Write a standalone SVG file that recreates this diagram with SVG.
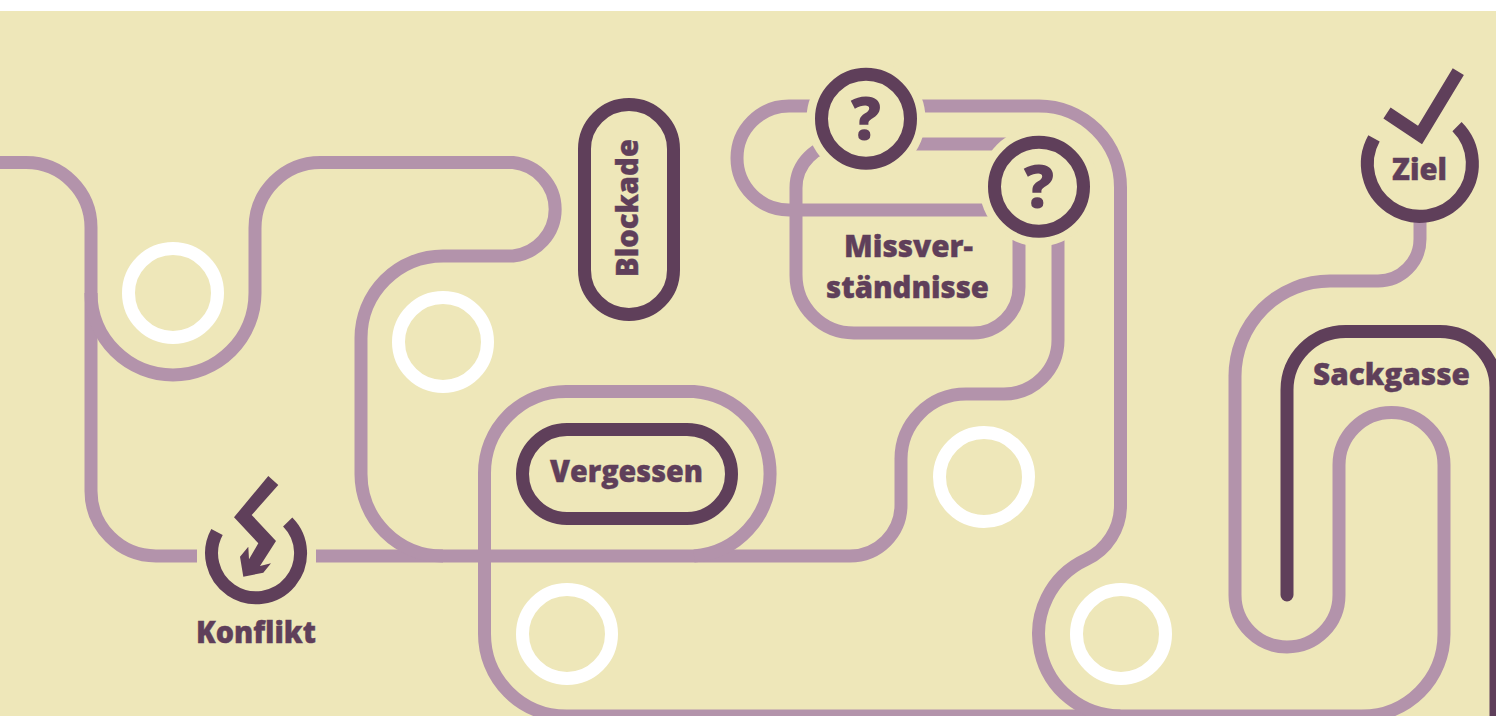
<svg xmlns="http://www.w3.org/2000/svg" width="1496" height="716" viewBox="0 0 1496 716">
<style>
.l{fill:none;stroke:#B393AB;stroke-width:13}
.d{fill:none;stroke:#5F3F5A;stroke-width:13}
.w{fill:none;stroke:#FFFFFF;stroke-width:13}
.h{fill:#EEE7B9}
.t{font-family:"Open Sans","Liberation Sans",sans-serif;font-weight:800;fill:#5F3F5A;stroke:#5F3F5A;stroke-width:0.4;font-size:30px}
.q{font-family:"Open Sans","Liberation Sans",sans-serif;font-weight:800;fill:#5F3F5A;font-size:60px;text-anchor:middle}
</style>
<rect width="1496" height="716" fill="#FFFFFF"/>
<rect y="11" width="1496" height="705" fill="#EEE7B9"/>
<g id="connectors">
<path class="l" d="M0 162.500H26A65 65 0 0 1 91 227.500V491A65 65 0 0 0 156 556H197"/>
<path class="l" d="M316 556H850A51 51 0 0 0 901 505V459A65 65 0 0 1 966 394H1004A54 54 0 0 0 1058 340V240"/>
<path class="l" d="M91 293A82 82 0 0 0 255 293V228A65.500 65.500 0 0 1 320.500 162.500H513A47 47 0 0 1 513 256H443A82 82 0 0 0 361 338V474A82 82 0 0 0 443 556"/>
<path class="l" d="M694 556A82.500 82.500 0 0 0 694 391.500H566A81.500 81.500 0 0 0 484.500 473V634A82 82 0 0 0 566.500 716H1362A82 82 0 0 0 1444 634V465A52.500 52.500 0 0 0 1339 465V595A52 52 0 0 1 1235 595V376A95 95 0 0 1 1330 281H1378A42 42 0 0 0 1420 239V215"/>
<path class="l" d="M860 106H1039A81.500 81.500 0 0 1 1120.500 187.500V505.300A60 60 0 0 1 1085.900 559.700A82 82 0 0 0 1120.500 716"/>
<path class="l" d="M1040 144H840A44 44 0 0 0 796 188V275A58 58 0 0 0 854 333H973A46 46 0 0 0 1019 287V240"/>
<path class="l" d="M860 106H789A52 52 0 0 0 789 210H1010"/>
</g>
<g id="spot-1"><circle class="w" cx="173" cy="293" r="44.500"/></g>
<g id="spot-2"><circle class="w" cx="443" cy="342" r="44.500"/></g>
<g id="spot-3"><circle class="w" cx="984" cy="477" r="44.500"/></g>
<g id="spot-4"><circle class="w" cx="567" cy="634" r="44.500"/></g>
<g id="spot-5"><circle class="w" cx="1121" cy="634" r="44.500"/></g>
<g id="konflikt">
<path class="d" d="M217 532A44.500 44.500 0 1 0 287.700 522"/>
<polygon fill="#5F3F5A" points="268.300,476 278.300,485 251.700,515 276,541 260,566 271,563.300 263.300,572.700 243.300,576.700 240,556.700 248.300,546.700 249,559.300 258.300,543.300 234,517.300"/>
<text class="t" x="196" y="643" textLength="120" lengthAdjust="spacingAndGlyphs">Konflikt</text>
</g>
<g id="blockade">
<rect class="d" x="584.500" y="104.500" width="89" height="210" rx="44.500"/>
<text class="t" transform="translate(638 277) rotate(-90)" textLength="138" lengthAdjust="spacingAndGlyphs">Blockade</text>
</g>
<g id="vergessen">
<rect class="d" x="522.500" y="429.500" width="209" height="89" rx="44.500"/>
<text class="t" x="550" y="482" textLength="153" lengthAdjust="spacingAndGlyphs">Vergessen</text>
</g>
<g id="frage-1">
<circle class="h" cx="866" cy="118.700" r="59.500"/>
<circle class="d" cx="866" cy="118.700" r="44.500"/>
<text class="q" x="866" y="140">?</text>
</g>
<g id="frage-2">
<circle class="h" cx="1039" cy="186.700" r="59.500"/>
<circle class="d" cx="1039" cy="186.700" r="44.500"/>
<text class="q" x="1039" y="208">?</text>
</g>
<g id="missverstaendnisse">
<text class="t" x="844" y="257" textLength="129" lengthAdjust="spacingAndGlyphs">Missver-</text>
<text class="t" x="826" y="298" textLength="163" lengthAdjust="spacingAndGlyphs">ständnisse</text>
</g>
<g id="ziel">
<path class="d" d="M1374 138.300A52.500 52.500 0 1 0 1457 126.700"/>
<polyline class="d" points="1387,113 1420,135 1458.300,71.700"/>
<text class="t" x="1392" y="180" textLength="55" lengthAdjust="spacingAndGlyphs">Ziel</text>
</g>
<g id="sackgasse">
<path class="d" d="M1287 595V390A58.500 58.500 0 0 1 1345.500 331.500H1440A56 56 0 0 1 1496 387.500V716" stroke-linecap="round"/>
<text class="t" x="1313" y="385" textLength="157" lengthAdjust="spacingAndGlyphs">Sackgasse</text>
</g>
</svg>
